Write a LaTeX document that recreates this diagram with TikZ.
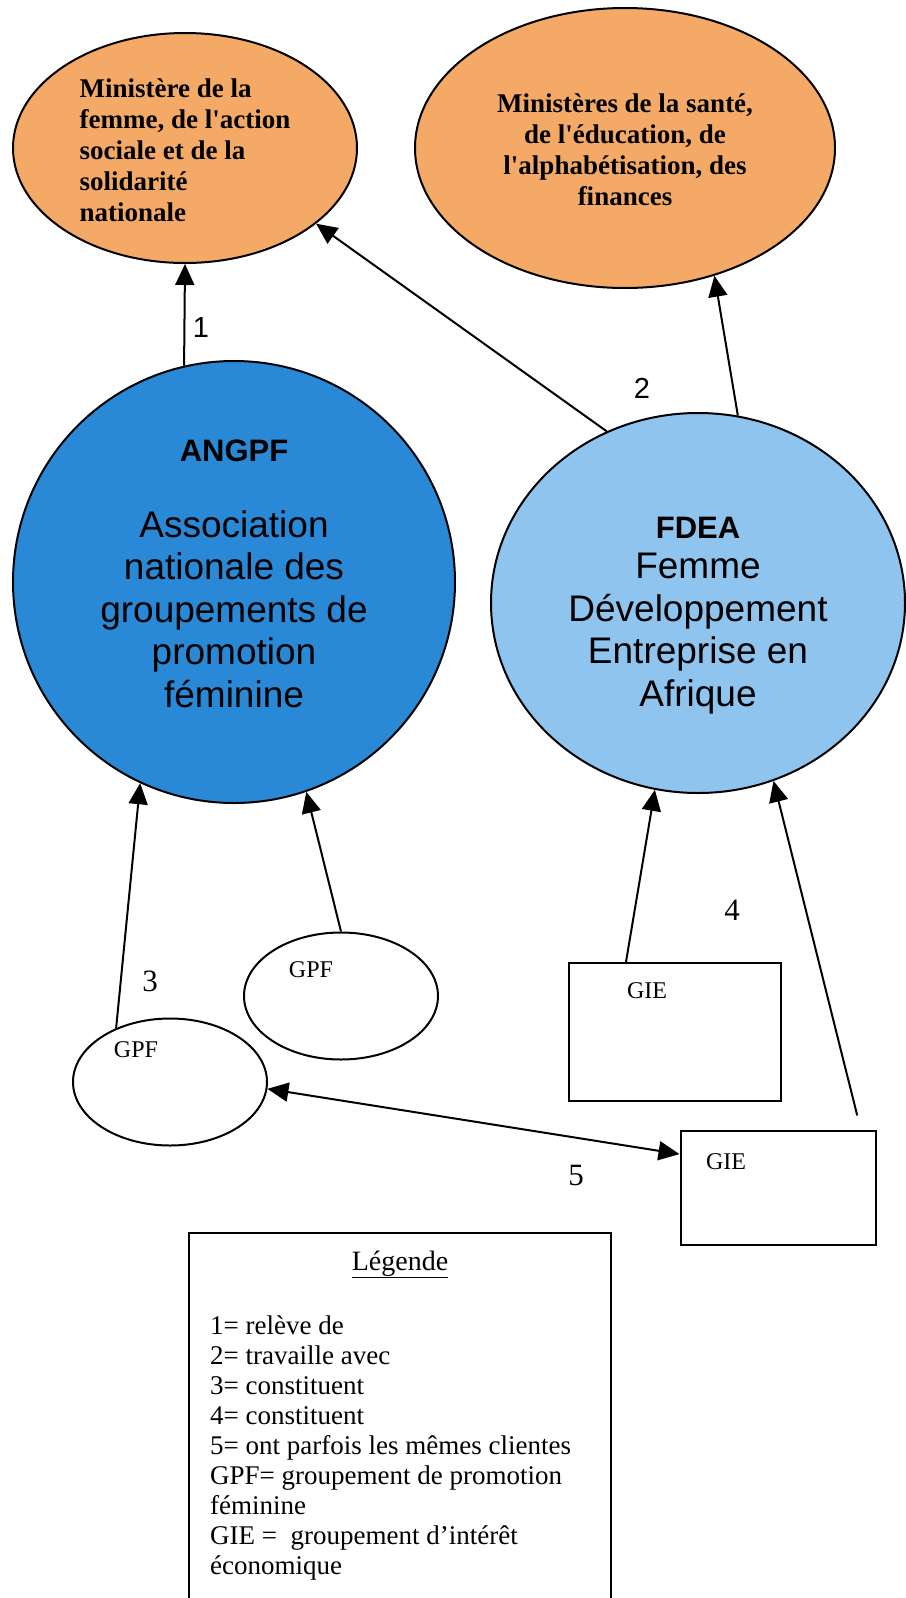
\documentclass[tikz,border=0pt]{standalone}
\usepackage{fontspec}
\setmainfont{Liberation Serif}
\setsansfont{Liberation Sans}
\usetikzlibrary{arrows.meta,shapes.geometric}

\definecolor{orangemin}{RGB}{244,170,102}
\definecolor{bleuangpf}{RGB}{41,137,214}
\definecolor{bleufdea}{RGB}{143,196,238}

\tikzset{
    ministere/.style={ellipse, draw, line width=2pt, fill=orangemin, inner sep=0pt,
        font=\bfseries\fontsize{27}{31}\selectfont},
    assoc/.style={draw, line width=2pt, inner sep=0pt, align=center,
        font=\sffamily\fontsize{37}{42.5}\selectfont},
    gpf/.style={ellipse, draw, line width=2pt, minimum width=194pt, minimum height=127pt},
    gie/.style={rectangle, draw, line width=2pt},
    tag/.style={font=\fontsize{24}{28}\selectfont, inner sep=0pt},
    num/.style={font=\sffamily\fontsize{29}{32}\selectfont, inner sep=0pt},
    numserif/.style={font=\fontsize{31}{34}\selectfont, inner sep=0pt},
    legtexte/.style={font=\fontsize{27}{30}\selectfont, inner sep=0pt},
    fleche/.style={-{Triangle[length=21pt,width=19pt]}, line width=2pt},
    fleche2/.style={{Triangle[length=21pt,width=19pt]}-{Triangle[length=21pt,width=19pt]}, line width=2pt}
}

\begin{document}
\begin{tikzpicture}[x=1pt,y=-1pt]
    \useasboundingbox (0,0) rectangle (905,1598);

    % Ministeres
    \node[ministere, minimum width=344pt, minimum height=230pt] (minfem) at (185,148)
        {\raisebox{-11.5pt}[0pt][0pt]{\begin{tabular}{@{}l@{}}Ministère de la\\femme, de l\textquotesingle action\\sociale et de la\\solidarité\\nationale\end{tabular}}};
    \node[ministere, minimum width=420pt, minimum height=280pt] (minsante) at (625,148)
        {\raisebox{-11.5pt}[0pt][0pt]{\begin{tabular}{@{}c@{}}Ministères de la santé,\\de l\textquotesingle éducation, de\\l\textquotesingle alphabétisation, des\\finances\end{tabular}}};

    % Associations
    \node[assoc, circle, fill=bleuangpf, minimum size=442pt] (angpf) at (234,582)
        {{\bfseries\fontsize{31}{37}\selectfont ANGPF}\\[33pt]Association\\nationale des\\groupements de\\promotion\\féminine\\[-26pt]\mbox{}};
    \node[assoc, ellipse, fill=bleufdea, minimum width=414pt, minimum height=380pt] (fdea) at (698,603)
        {\mbox{}\\[4pt]{\bfseries\fontsize{31}{37}\selectfont FDEA}\\[-2pt]Femme\\Développement\\Entreprise en\\Afrique};

    % Groupements
    \node[gpf] (gpfa) at (170,1082) {};
    \node[gpf] (gpfb) at (341,996) {};
    \node[gie, minimum width=212pt, minimum height=138pt] (gie1) at (675,1032) {};
    \node[gie, minimum width=195pt, minimum height=114pt] (gie2) at (778,1188) {};

    \foreach \n/\dx/\dy/\lab in {gpfa/-34/-32/GPF, gpfb/-30/-26/GPF, gie1/-28/-41/GIE, gie2/-52/-26/GIE} {
        \node[tag] (\n-t) at ([shift={(\dx,\dy)}]\n.center) {\lab};
    }

    % Liens
    \draw[fleche] (angpf.103) -- (minfem.south);
    \draw[fleche] (fdea.118) -- (minfem.330);
    \draw[fleche] (fdea.78) -- (minsante.305);
    \draw[fleche] (gpfa.135) -- (angpf.245);
    \draw[fleche] (gpfb.north) -- (angpf.289);
    \draw[fleche] (gie1.125) -- (fdea.257);
    \draw[fleche, shorten <=15pt] (gie2.35) -- (fdea.293);
    \draw[fleche2] (gpfa.356) -- (gie2.161);

    % Numeros des liens
    \node[num] (n1) at (201,328) {1};
    \node[num] (n2) at (642,388) {2};
    \node[numserif] (n3) at (150,981) {3};
    \node[numserif] (n4) at (732,910) {4};
    \node[numserif] (n5) at (576,1175) {5};

    % Legende
    \node[draw, line width=2pt, minimum width=422pt, minimum height=372pt] (legende) at (400,1419) {};
    \node[font=\fontsize{28}{30}\selectfont, inner sep=0pt, anchor=base] (legtitre) at (400,1270) {\underline{Légende}};
    \foreach \k/\txt in {
    0/{1= relève de},
    1/{2= travaille avec},
    2/{3= constituent},
    3/{4= constituent},
    4/{5= ont parfois les mêmes clientes},
    5/{GPF= groupement de promotion},
    6/{féminine},
    7/{GIE =~ groupement d’intérêt},
    8/{économique}} {
        \node[legtexte, anchor=base west] (leg\k) at (210,1334+30*\k) {\txt};
    }

\end{tikzpicture}
\end{document}
